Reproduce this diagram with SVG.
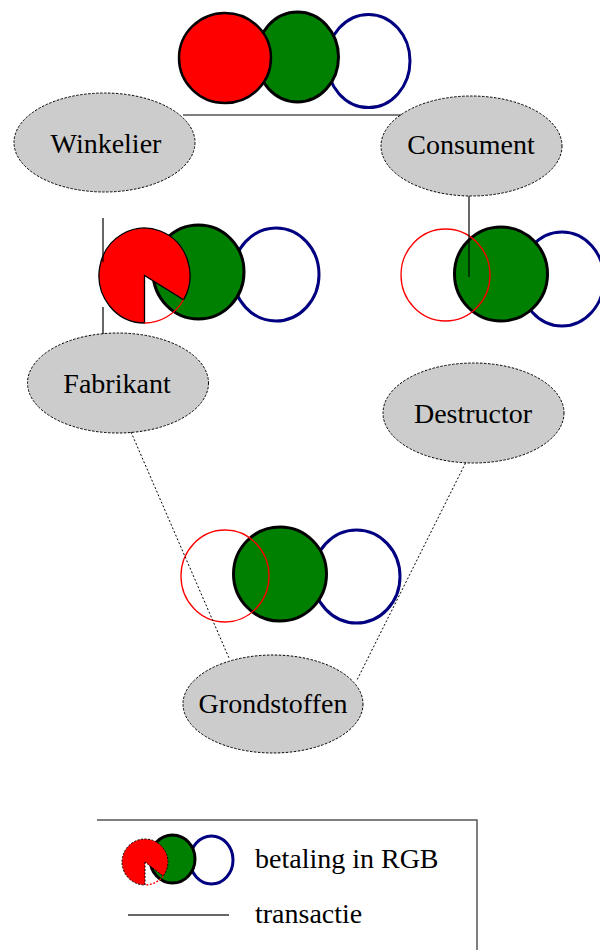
<svg xmlns="http://www.w3.org/2000/svg" width="600" height="950" viewBox="0 0 600 950">
<style>
.node ellipse{fill:#cccccc;stroke:#000;stroke-width:1;stroke-dasharray:2.5,1.5}
.label{font-family:"Liberation Serif","Times New Roman",serif;font-size:28px;fill:#000;text-anchor:middle}
.leg{font-family:"Liberation Serif","Times New Roman",serif;font-size:28px;fill:#000}
.r{fill:#ff0000;stroke:#000;stroke-width:2.5}
.rp{fill:#ff0000;stroke:#000;stroke-width:1.3}
.rt{fill:none;stroke:#ff0000;stroke-width:1.3}
.g{fill:#008000;stroke:#000;stroke-width:3}
.b{fill:#fff;stroke:#000080;stroke-width:3}
.tr{stroke:#000;stroke-width:1.2;fill:none}
.dot{stroke:#000;stroke-width:1;stroke-dasharray:2,2;fill:none}
</style>
<rect width="600" height="950" fill="#fff"/>

<g id="node-winkelier" class="node">
<ellipse cx="104.5" cy="142.5" rx="90.5" ry="49.5"/>
<text class="label" x="106" y="153">Winkelier</text>
</g>
<g id="node-consument" class="node">
<ellipse cx="471.5" cy="146" rx="90.5" ry="50"/>
<text class="label" x="471" y="154">Consument</text>
</g>
<g id="node-fabrikant" class="node">
<ellipse cx="118" cy="383" rx="90.5" ry="50"/>
<text class="label" x="117" y="393">Fabrikant</text>
</g>
<g id="node-destructor" class="node">
<ellipse cx="473.5" cy="413" rx="90.5" ry="50"/>
<text class="label" x="473" y="423">Destructor</text>
</g>
<g id="node-grondstoffen" class="node">
<ellipse cx="273" cy="704" rx="90" ry="49"/>
<text class="label" x="273" y="713">Grondstoffen</text>
</g>

<g id="payment-top">
<ellipse class="b" cx="368.5" cy="61" rx="41.5" ry="46.5"/>
<ellipse class="g" cx="297.5" cy="57" rx="41" ry="45"/>
<ellipse class="r" cx="225" cy="58" rx="46" ry="45"/>
</g>

<g id="payment-left">
<ellipse class="b" cx="276" cy="274.5" rx="43" ry="46.5"/>
<ellipse class="g" cx="198.5" cy="272" rx="45.5" ry="47"/>
<path class="rp" d="M144.5 275.5 L144.5 323 A45.5 47.5 0 1 1 183.6 299.75 Z"/>
<path class="rt" d="M183.6 299.75 A45.5 47.5 0 0 1 144.5 323"/>
</g>

<g id="payment-right">
<ellipse class="b" cx="562" cy="279" rx="42" ry="47"/>
<ellipse class="g" cx="501" cy="274" rx="46.5" ry="47"/>
<ellipse class="rt" cx="445.5" cy="275" rx="44.5" ry="46"/>
</g>

<g id="payment-bottom">
<ellipse class="b" cx="356.5" cy="576.5" rx="43.5" ry="46.5"/>
<ellipse class="g" cx="280" cy="574" rx="46.5" ry="47"/>
<ellipse class="rt" cx="225" cy="576" rx="44" ry="46"/>
</g>

<g id="connectors">
<line class="tr" x1="183" y1="115" x2="401" y2="115"/>
<line class="tr" x1="469" y1="196" x2="469" y2="277"/>
<line class="tr" x1="103" y1="218" x2="103" y2="262"/>
<line class="tr" x1="103" y1="307" x2="103" y2="334"/>
<line class="dot" x1="131" y1="432" x2="229" y2="658"/>
<line class="dot" x1="465.5" y1="463" x2="357" y2="680"/>
</g>

<g id="legend">
<path d="M97 820 H477 V950" fill="none" stroke="#555" stroke-width="1.5"/>
<ellipse class="b" cx="211.5" cy="860" rx="21.5" ry="24" stroke-width="2.2"/>
<ellipse class="g" cx="172.5" cy="859" rx="22.5" ry="24" stroke-width="2.2"/>
<path d="M145 862 L145 885 A23 23 0 1 1 163.15 876.1 Z" fill="#ff0000" stroke="#000" stroke-width="1" stroke-dasharray="2,1.5"/>
<path class="rt" d="M163.15 876.1 A23 23 0 0 1 145 885" stroke-dasharray="2,1.5"/>
<text class="leg" x="255" y="868">betaling in RGB</text>
<line x1="128" y1="915" x2="229" y2="915" stroke="#333" stroke-width="1.5"/>
<text class="leg" x="255" y="923">transactie</text>
</g>
</svg>
